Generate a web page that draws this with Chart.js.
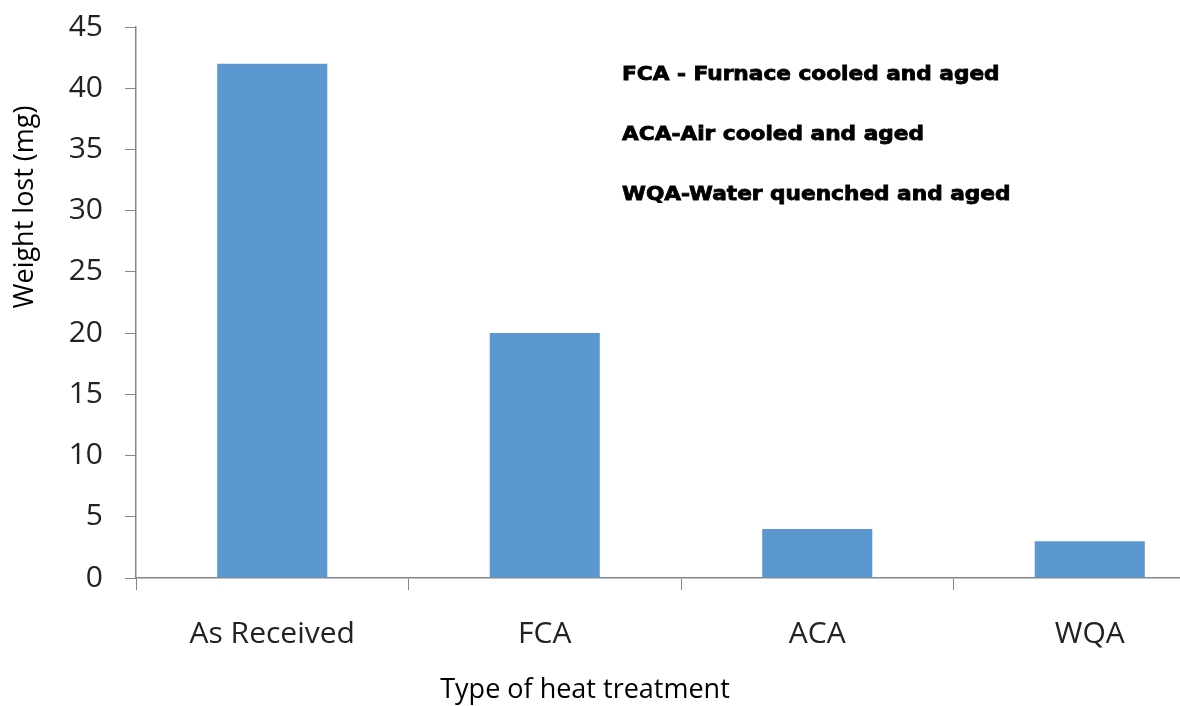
<!DOCTYPE html>
<html>
<head>
<meta charset="utf-8">
<script src="https://cdn.jsdelivr.net/npm/chart.js@4/dist/chart.umd.min.js"></script>
<style>
    html, body { margin: 0; padding: 0; background: #fff; overflow: hidden; }
    #wrap { position: relative; width: 1240px; height: 706px; }
</style>
</head>
<body>
<div id="wrap"><canvas id="chart"></canvas></div>
<script>
(function () {
    "use strict";

    // Data
    const categories = ["As Received", "FCA", "ACA", "WQA"];
    const weightLost = [42, 20, 4, 3];
    const notes = [
        "FCA - Furnace cooled and aged",
        "ACA-Air cooled and aged",
        "WQA-Water quenched and aged",
    ];
    const xTitle = "Type of heat treatment";
    const yTitle = "Weight lost (mg)";

    const axisGrey = "#868686";
    const labelFont = "'Open Sans', sans-serif";

    // Titles and the notes block sit off-centre in the original, so draw them here
    const textPlugin = {
        id: "texts",
        afterDraw(chart) {
            const c = chart.ctx;
            c.save();
            c.fillStyle = "#000";
            c.textBaseline = "middle";

            // wide, heavy face: stretch a bold font sideways
            c.font = "bold 19px 'DejaVu Sans', sans-serif";
            c.textAlign = "left";
            notes.forEach((t, i) => {
                c.save();
                c.translate(622, 75 + i * 60);
                c.scale(1.14, 1);
                c.lineWidth = 0.8;
                c.strokeStyle = "#000";
                c.fillText(t, 0, 0);
                c.strokeText(t, 0, 0);
                c.restore();
            });

            c.font = "27px " + labelFont;
            c.textAlign = "center";
            c.fillText(xTitle, 585, 690);

            c.translate(25, 207);
            c.rotate(-Math.PI / 2);
            c.fillText(yTitle, 0, 0);
            c.restore();
        },
    };

    const ctx = document.getElementById("chart").getContext("2d");
    new Chart(ctx, {
        type: "bar",
        data: {
            labels: categories,
            datasets: [
                {
                    data: weightLost,
                    backgroundColor: "#5b98d0",
                    borderWidth: 0,
                    barPercentage: 1,
                    categoryPercentage: 0.404,
                },
            ],
        },
        options: {
            responsive: true,
            maintainAspectRatio: false,
            animation: false,
            layout: { padding: { top: 27, right: 14, left: 0, bottom: 0 } },
            plugins: {
                legend: { display: false },
                tooltip: { enabled: false },
            },
            scales: {
                x: {
                    grid: {
                        display: true,
                        drawOnChartArea: false,
                        drawTicks: true,
                        tickLength: 12,
                        color: axisGrey,
                    },
                    border: { color: axisGrey, width: 1.5 },
                    ticks: {
                        color: "#222",
                        padding: 26,
                        font: { family: labelFont, size: 30 },
                    },
                    afterFit: (scale) => { scale.height = 128; },
                },
                y: {
                    min: 0,
                    max: 45,
                    grid: {
                        display: true,
                        drawOnChartArea: false,
                        drawTicks: true,
                        tickLength: 11,
                        color: axisGrey,
                    },
                    border: { color: axisGrey, width: 1.5 },
                    ticks: {
                        stepSize: 5,
                        color: "#222",
                        padding: 22,
                        font: { family: labelFont, size: 30 },
                    },
                    afterFit: (scale) => {
                        scale.width = 136;
                        scale.paddingTop = 0;
                        scale.paddingBottom = 0;
                    },
                },
            },
        },
        plugins: [textPlugin],
    });
})();
</script>
</body>
</html>
